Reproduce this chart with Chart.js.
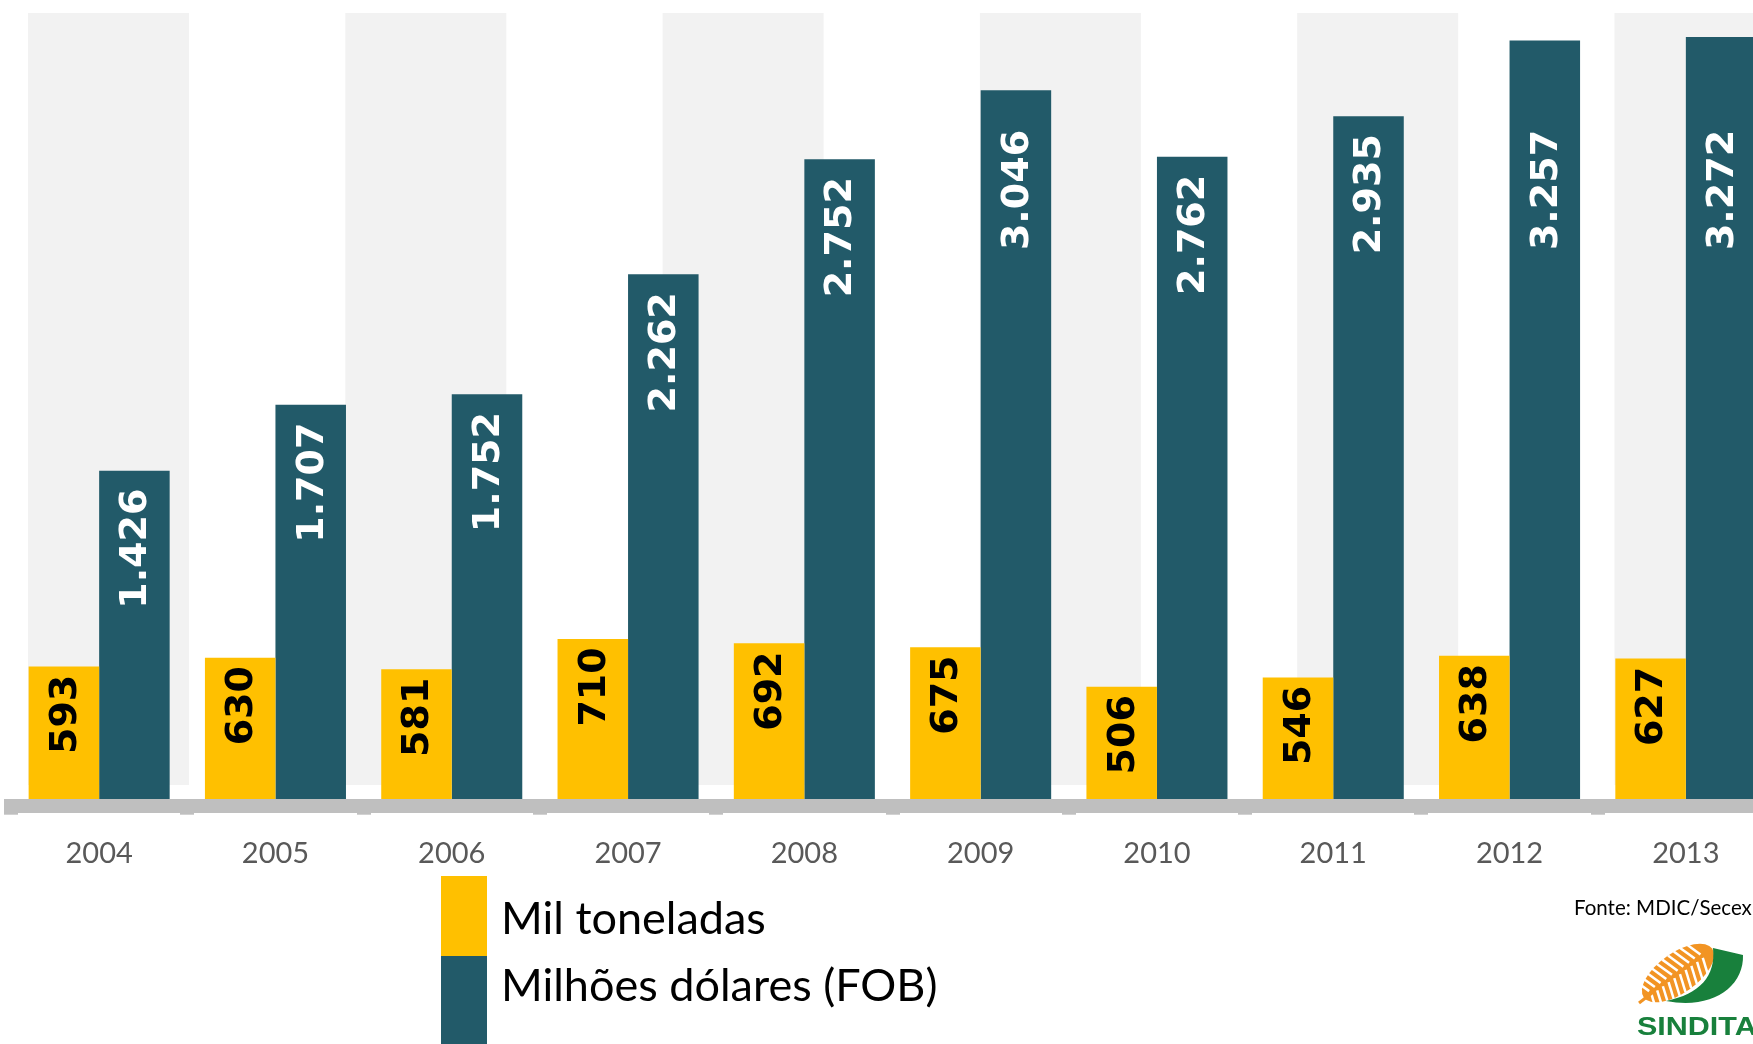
<!DOCTYPE html>
<html>
<head>
<meta charset="utf-8">
<script src="https://cdn.jsdelivr.net/npm/chart.js@4.4.0/dist/chart.umd.min.js"></script>
<style>
  html, body { margin: 0; padding: 0; background: #fff; overflow: hidden; }
  #wrap { position: relative; width: 1753px; height: 1044px; overflow: hidden; }
  canvas { position: absolute; left: 0; top: 0; }
</style>
</head>
<body>
<div id="wrap"><canvas id="bar-chart" width="1780" height="1044"></canvas></div>
<script>
const years = ['2004', '2005', '2006', '2007', '2008', '2009', '2010', '2011', '2012', '2013'];
const milToneladas = [593, 630, 581, 710, 692, 675, 506, 546, 638, 627];
const milhoesDolares = [1426, 1707, 1752, 2262, 2752, 3046, 2762, 2935, 3257, 3272];
const seriesNames = ['Mil toneladas', 'Milhões dólares (FOB)'];
const seriesColors = ['#FFC000', '#225A69'];
const labelColors = ['#000000', '#FFFFFF'];
const sourceText = 'Fonte: MDIC/Secex';
const logoText = 'SINDITA';

// 1.426 style thousands separator
const fmt = v => String(v).replace(/\B(?=(\d{3})+(?!\d))/g, '.');

// light grey stripes from the slide background
const stripes = {
	id: 'stripes',
	beforeDraw(chart) {
		const ctx = chart.ctx;
		ctx.save();
		ctx.fillStyle = '#F2F2F2';
		for (let k = 0; k < 6; k++) {
			ctx.fillRect(28 + k * 317.3, 13, 161, 772);
		}
		ctx.restore();
	},
};

// rotated value labels inside the bars
const valueLabels = {
	id: 'valueLabels',
	afterDatasetsDraw(chart) {
		const ctx = chart.ctx;
		ctx.save();
		ctx.font = 'bold 38px "DejaVu Sans"';
		ctx.textAlign = 'center';
		ctx.textBaseline = 'middle';
		chart.data.datasets.forEach((ds, i) => {
			chart.getDatasetMeta(i).data.forEach((bar, j) => {
				let cy;
				if (i === 0) cy = bar.y + 48;
				else cy = Math.max(bar.y + 78, chart.chartArea.top + 183);
				ctx.save();
				ctx.translate(bar.x, cy);
				ctx.rotate(-Math.PI / 2);
				ctx.fillStyle = labelColors[i];
				ctx.fillText(fmt(ds.data[j]), 0, 2);
				ctx.restore();
			});
		});
		ctx.restore();
	},
};

// legend block, source note and logo
const extras = {
	id: 'extras',
	afterDraw(chart) {
		const ctx = chart.ctx;
		ctx.save();
		chart.data.datasets.forEach((ds, i) => {
			ctx.fillStyle = ds.backgroundColor;
			if (i === 0) ctx.fillRect(441, 876, 46, 80);
			else ctx.fillRect(441, 956, 46, 90);
			ctx.fillStyle = '#000';
			ctx.font = '45px Lato';
			ctx.textBaseline = 'alphabetic';
			ctx.fillText(ds.label, 501, i === 0 ? 934 : 1001);
		});

		ctx.font = '20.5px Lato';
		ctx.fillStyle = '#000';
		ctx.fillText(sourceText, 1574, 915);

		// leaf
		ctx.save();
		ctx.translate(1678, 973);
		ctx.rotate(-0.62);
		ctx.beginPath();
		ctx.ellipse(0, 0, 42, 20, 0, 0, Math.PI * 2);
		ctx.fillStyle = '#F29423';
		ctx.fill();
		ctx.strokeStyle = '#FFFFFF';
		ctx.lineWidth = 2.5;
		for (let s = -34; s <= 34; s += 7) {
			ctx.beginPath();
			ctx.moveTo(s, -2);
			ctx.lineTo(s - 6, -20);
			ctx.stroke();
			ctx.beginPath();
			ctx.moveTo(s, 2);
			ctx.lineTo(s - 6, 20);
			ctx.stroke();
		}
		ctx.restore();
		ctx.strokeStyle = '#F29423';
		ctx.lineWidth = 3;
		ctx.beginPath();
		ctx.moveTo(1639, 1003);
		ctx.lineTo(1652, 993);
		ctx.stroke();

		ctx.fillStyle = '#18803C';
		ctx.beginPath();
		ctx.moveTo(1666, 1001);
		ctx.bezierCurveTo(1712, 1010, 1744, 987, 1743, 955);
		ctx.lineTo(1713, 948);
		ctx.bezierCurveTo(1716, 976, 1700, 994, 1666, 1001);
		ctx.fill();

		ctx.save();
		ctx.translate(1637, 1035);
		ctx.scale(1.22, 1);
		ctx.font = 'bold 25px "Liberation Sans"';
		ctx.fillStyle = '#18803C';
		ctx.fillText(logoText, 0, 0);
		ctx.restore();
		ctx.restore();
	},
};

const ctx = document.getElementById('bar-chart').getContext('2d');
new Chart(ctx, {
	type: 'bar',
	data: {
		labels: years,
		datasets: [
			{ label: seriesNames[0], data: milToneladas, backgroundColor: seriesColors[0] },
			{ label: seriesNames[1], data: milhoesDolares, backgroundColor: seriesColors[1] },
		],
	},
	options: {
		responsive: false,
		animation: false,
		categoryPercentage: 0.8,
		barPercentage: 1.0,
		layout: { padding: { left: 11, right: 6, top: 7, bottom: 150.5 } },
		plugins: {
			legend: { display: false },
			tooltip: { enabled: false },
		},
		scales: {
			x: {
				offset: true,
				grid: {
					offset: true,
					z: 1,
					drawOnChartArea: false,
					drawTicks: true,
					tickLength: 9,
					tickWidth: 14,
					tickColor: '#BFBFBF',
					color: '#BFBFBF',
					lineWidth: 14,
				},
				border: { display: true, z: 1, width: 14, color: '#BFBFBF' },
				ticks: {
					font: { family: 'Lato', size: 29 },
					color: '#595959',
					padding: 22,
				},
			},
			y: { display: false, min: 0, max: 3400 },
		},
	},
	plugins: [stripes, valueLabels, extras],
});
</script>
</body>
</html>
